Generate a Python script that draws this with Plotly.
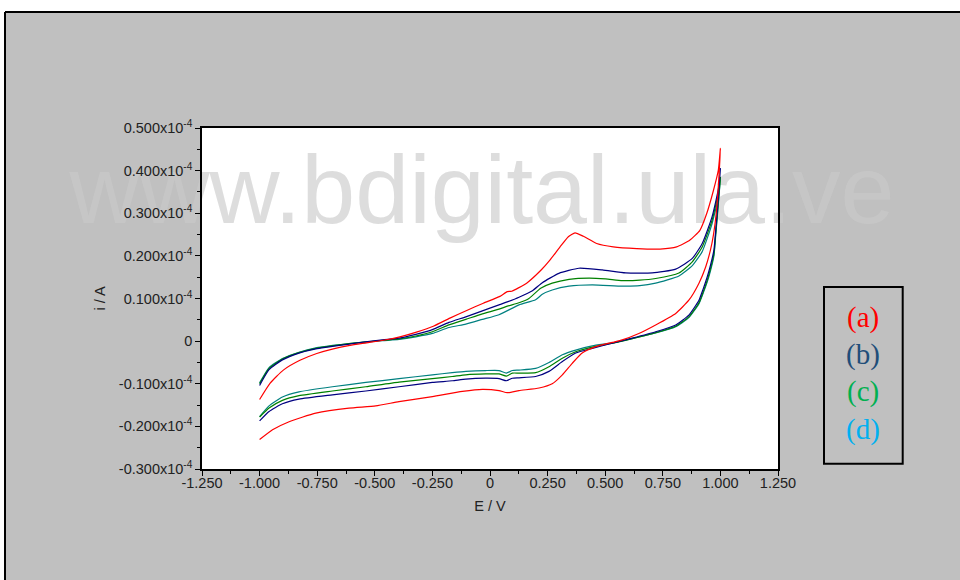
import plotly.graph_objects as go

# ---------------- data (E in V, i in units of 1e-4 A) ----------------
E_a_fwd = [-1.000, -0.955, -0.897, -0.825, -0.752, -0.680, -0.608, -0.536, -0.463, -0.391,
           -0.319, -0.246, -0.174, -0.101, -0.029, 0.043, 0.075, 0.094, 0.159, 0.224,
           0.260, 0.304, 0.340, 0.369, 0.405, 0.463, 0.535, 0.637, 0.738, 0.810,
           0.868, 0.911, 0.941, 0.970, 0.991, 1.000]
I_a_fwd = [-0.137, -0.099, -0.068, -0.045, -0.029, -0.018, -0.010, -0.004, 0.002, 0.010,
           0.021, 0.035, 0.054, 0.072, 0.089, 0.105, 0.116, 0.117, 0.136, 0.168,
           0.190, 0.221, 0.245, 0.254, 0.246, 0.229, 0.221, 0.217, 0.216, 0.221,
           0.237, 0.260, 0.300, 0.354, 0.401, 0.452]
E_a_rev = [0.993, 0.982, 0.970, 0.957, 0.936, 0.907, 0.863, 0.806, 0.719, 0.646,
           0.574, 0.531, 0.459, 0.400, 0.357, 0.314, 0.270, 0.213, 0.126, 0.075,
           0.039, -0.033, -0.120, -0.250, -0.395, -0.496, -0.612, -0.756, -0.872, -0.944,
           -1.000]
I_a_rev = [0.380, 0.300, 0.250, 0.214, 0.174, 0.136, 0.096, 0.065, 0.038, 0.018,
           0.003, -0.003, -0.013, -0.028, -0.052, -0.079, -0.100, -0.110, -0.116, -0.121,
           -0.116, -0.113, -0.118, -0.130, -0.142, -0.152, -0.157, -0.169, -0.189, -0.208,
           -0.231]

E_b_fwd = [-1.000, -0.959, -0.901, -0.829, -0.756, -0.612, -0.467, -0.395, -0.322, -0.250,
           -0.178, -0.105, -0.033, 0.039, 0.075, 0.126, 0.184, 0.227, 0.299, 0.386,
           0.487, 0.589, 0.704, 0.806, 0.878, 0.921, 0.964, 0.993, 1.000]
I_b_fwd = [-0.104, -0.067, -0.044, -0.028, -0.018, -0.007, 0.003, 0.007, 0.016, 0.027,
           0.044, 0.057, 0.071, 0.085, 0.092, 0.103, 0.118, 0.137, 0.159, 0.171,
           0.167, 0.160, 0.160, 0.169, 0.194, 0.229, 0.292, 0.362, 0.405]
E_b_rev = [0.990, 0.980, 0.972, 0.957, 0.943, 0.925, 0.907, 0.863, 0.806, 0.719,
           0.617, 0.531, 0.444, 0.372, 0.314, 0.256, 0.198, 0.126, 0.097, 0.071,
           0.039, -0.019, -0.105, -0.164, -0.250, -0.395, -0.539, -0.684, -0.829, -0.901,
           -0.959, -1.000]
I_b_rev = [0.330, 0.262, 0.214, 0.178, 0.151, 0.122, 0.096, 0.061, 0.038, 0.022,
           0.007, -0.005, -0.017, -0.028, -0.048, -0.071, -0.083, -0.086, -0.087, -0.093,
           -0.088, -0.087, -0.089, -0.093, -0.097, -0.107, -0.117, -0.126, -0.136, -0.147,
           -0.165, -0.187]

E_c_fwd = [-1.000, -0.959, -0.901, -0.829, -0.756, -0.612, -0.467, -0.395, -0.322, -0.250,
           -0.178, -0.105, -0.033, 0.039, 0.075, 0.126, 0.169, 0.220, 0.270, 0.343,
           0.430, 0.502, 0.574, 0.650, 0.719, 0.820, 0.878, 0.921, 0.964, 0.993, 1.000]
I_c_fwd = [-0.100, -0.064, -0.042, -0.027, -0.017, -0.006, 0.002, 0.005, 0.012, 0.022,
           0.038, 0.051, 0.064, 0.075, 0.082, 0.090, 0.100, 0.124, 0.136, 0.145,
           0.148, 0.146, 0.142, 0.143, 0.147, 0.160, 0.186, 0.221, 0.284, 0.354, 0.384]
E_c_rev = [0.990, 0.980, 0.972, 0.957, 0.943, 0.925, 0.907, 0.863, 0.806, 0.719,
           0.617, 0.531, 0.444, 0.372, 0.314, 0.256, 0.198, 0.126, 0.097, 0.071,
           0.039, -0.019, -0.105, -0.164, -0.250, -0.395, -0.539, -0.684, -0.829, -0.901,
           -0.959, -1.000]
I_c_rev = [0.320, 0.255, 0.205, 0.170, 0.143, 0.115, 0.090, 0.057, 0.035, 0.020,
           0.006, -0.005, -0.014, -0.025, -0.040, -0.060, -0.074, -0.075, -0.075, -0.082,
           -0.077, -0.077, -0.079, -0.083, -0.088, -0.096, -0.107, -0.117, -0.128, -0.139,
           -0.157, -0.178]

E_d_fwd = [-1.000, -0.959, -0.901, -0.829, -0.756, -0.612, -0.467, -0.395, -0.322, -0.250,
           -0.178, -0.105, -0.033, 0.039, 0.126, 0.198, 0.227, 0.270, 0.343, 0.444,
           0.574, 0.650, 0.719, 0.820, 0.878, 0.921, 0.964, 0.993, 1.000]
I_d_fwd = [-0.098, -0.062, -0.041, -0.026, -0.016, -0.006, 0.001, 0.004, 0.010, 0.018,
           0.032, 0.040, 0.051, 0.062, 0.085, 0.097, 0.110, 0.120, 0.129, 0.132,
           0.129, 0.130, 0.136, 0.153, 0.177, 0.210, 0.276, 0.346, 0.382]
E_d_rev = [0.990, 0.980, 0.972, 0.957, 0.943, 0.925, 0.907, 0.863, 0.806, 0.719,
           0.617, 0.531, 0.444, 0.372, 0.314, 0.256, 0.198, 0.126, 0.097, 0.071,
           0.039, -0.019, -0.105, -0.164, -0.250, -0.395, -0.539, -0.684, -0.829, -0.901,
           -0.959, -1.000]
I_d_rev = [0.315, 0.250, 0.200, 0.165, 0.139, 0.112, 0.088, 0.055, 0.034, 0.019,
           0.006, -0.004, -0.011, -0.021, -0.032, -0.050, -0.064, -0.068, -0.069, -0.075,
           -0.069, -0.069, -0.071, -0.074, -0.079, -0.088, -0.097, -0.107, -0.119, -0.131,
           -0.152, -0.177]

series_names = ["(a)", "(b)", "(c)", "(d)"]
line_colors = ["#ff0000", "#000080", "#008000", "#008080"]
label_colors = ["#ff0000", "#1f4e79", "#00b050", "#00b0f0"]

x_tickvals = [-1.25, -1.0, -0.75, -0.5, -0.25, 0.0, 0.25, 0.5, 0.75, 1.0, 1.25]
x_ticktext = ["-1.250", "-1.000", "-0.750", "-0.500", "-0.250", "0",
              "0.250", "0.500", "0.750", "1.000", "1.250"]
y_tickvals = [0.5, 0.4, 0.3, 0.2, 0.1, 0.0, -0.1, -0.2, -0.3]
y_ticktext = ["0.500x10<sup>-4</sup>", "0.400x10<sup>-4</sup>", "0.300x10<sup>-4</sup>",
              "0.200x10<sup>-4</sup>", "0.100x10<sup>-4</sup>", "0",
              "-0.100x10<sup>-4</sup>", "-0.200x10<sup>-4</sup>", "-0.300x10<sup>-4</sup>"]

watermark = "www.bdigital.ula.ve"

# ---------------- figure ----------------
fig = go.Figure()

# watermark under the curves
fig.add_trace(go.Scatter(
    x=[-0.035], y=[0.334], mode="text", text=[watermark],
    textposition="middle center",
    textfont=dict(family="Liberation Sans, Arial, sans-serif", size=97,
                  color="rgba(202,202,202,0.64)"),
    cliponaxis=False, showlegend=False, hoverinfo="skip"))

curves = [
    (E_a_fwd, I_a_fwd, E_a_rev, I_a_rev),
    (E_b_fwd, I_b_fwd, E_b_rev, I_b_rev),
    (E_c_fwd, I_c_fwd, E_c_rev, I_c_rev),
    (E_d_fwd, I_d_fwd, E_d_rev, I_d_rev),
]
order = [3, 2, 1, 0]
for k in order:
    ef, i_f, er, ir = curves[k]
    fig.add_trace(go.Scatter(
        x=list(ef) + list(er), y=list(i_f) + list(ir), mode="lines",
        name=series_names[k],
        line=dict(color=line_colors[k], width=1.2, shape="spline", smoothing=0.5),
        showlegend=False))

font_family = "Liberation Sans, Arial, sans-serif"

fig.update_layout(
    width=960, height=580,
    margin=dict(l=202, r=182, t=128, b=111),
    paper_bgcolor="#c0c0c0",
    plot_bgcolor="#ffffff",
    font=dict(family=font_family, size=14.5, color="#222222"),
    showlegend=False,
    xaxis=dict(
        range=[-1.25, 1.25], tickmode="array", tickvals=x_tickvals, ticktext=x_ticktext,
        showgrid=False, zeroline=False, showline=True, linecolor="black", linewidth=1.5,
        mirror=True, ticks="outside", ticklen=5, tickcolor="black", tickwidth=1,
        ticklabelstandoff=-5,
        minor=dict(tickmode="array",
                   tickvals=[-1.125, -0.875, -0.625, -0.375, -0.125, 0.125, 0.375, 0.625, 0.875, 1.125],
                   ticks="outside", ticklen=3, tickcolor="black", tickwidth=1),
        title=dict(text="E / V", standoff=11, font=dict(size=14.5)),
        tickfont=dict(size=14.5),
    ),
    yaxis=dict(
        range=[-0.3, 0.5], tickmode="array", tickvals=y_tickvals, ticktext=y_ticktext,
        showgrid=False, zeroline=False, showline=True, linecolor="black", linewidth=1.5,
        mirror=True, ticks="outside", ticklen=5, tickcolor="black", tickwidth=1,
        minor=dict(tickmode="array",
                   tickvals=[0.45, 0.35, 0.25, 0.15, 0.05, -0.05, -0.15, -0.25],
                   ticks="outside", ticklen=3, tickcolor="black", tickwidth=1),
        title=dict(text="i / A", standoff=10, font=dict(size=14.5)),
        tickfont=dict(size=14.5),
    ),
)

# outer white margins and frame (top and left edge of the page)
fx0 = (5 - 202) / 576.0
fy1 = (469.3 - 12.3) / 341.0
fig.add_shape(type="rect", xref="paper", yref="paper", x0=-0.6, x1=1.6, y0=fy1, y1=1.6,
              fillcolor="white", line=dict(width=0), layer="above")
fig.add_shape(type="rect", xref="paper", yref="paper", x0=-0.6, x1=fx0, y0=-0.6, y1=1.6,
              fillcolor="white", line=dict(width=0), layer="above")
fig.add_shape(type="line", xref="paper", yref="paper", x0=fx0, x1=1.6, y0=fy1, y1=fy1,
              line=dict(color="black", width=2))
fig.add_shape(type="line", xref="paper", yref="paper", x0=fx0, x1=fx0, y0=-0.6, y1=fy1,
              line=dict(color="black", width=2))

# label box
bx0 = (824 - 202) / 576.0
bx1 = (902.7 - 202) / 576.0
by0 = (469.3 - 464.0) / 341.0
by1 = (469.3 - 287.3) / 341.0
fig.add_shape(type="rect", xref="paper", yref="paper", x0=bx0, x1=bx1, y0=by0, y1=by1,
              line=dict(color="black", width=2), fillcolor="rgba(0,0,0,0)")

label_py = [318, 355, 392, 430]
for name, col, py in zip(series_names, label_colors, label_py):
    fig.add_annotation(
        xref="paper", yref="paper", x=(863 - 202) / 576.0, y=(469.3 - py) / 341.0,
        text=name, showarrow=False, xanchor="center", yanchor="middle",
        font=dict(family="Liberation Serif, Times New Roman, serif", size=29, color=col))

fig.write_html(
    "out.html",
    config={"displayModeBar": False},
    post_script="document.body.style.margin='0';document.body.style.overflow='hidden';",
)
